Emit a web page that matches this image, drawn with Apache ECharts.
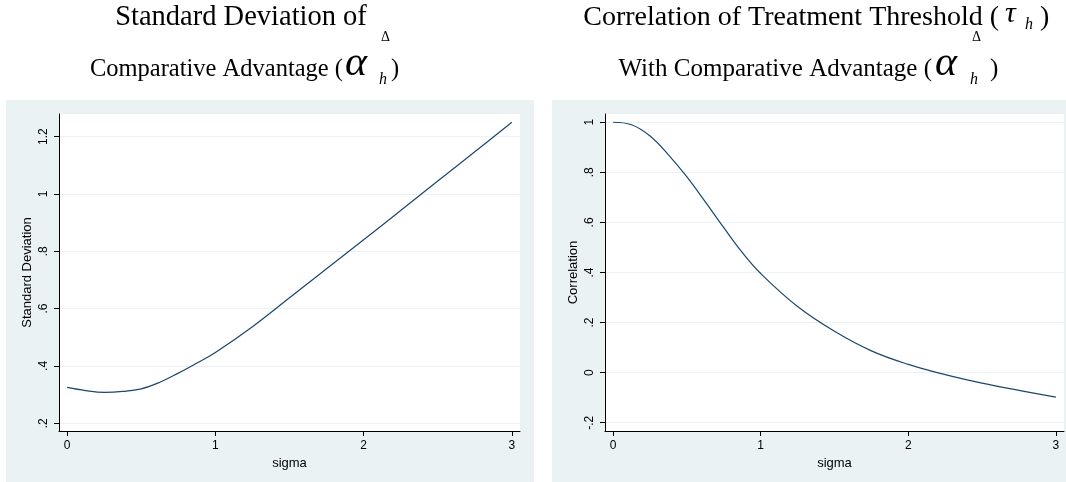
<!DOCTYPE html>
<html><head><meta charset="utf-8">
<script src="https://cdn.jsdelivr.net/npm/echarts@6/dist/echarts.min.js"></script>
<style>html,body{margin:0;padding:0;background:#fff}#c{width:1066px;height:482px}</style>
</head><body><div id="c"></div>
<script>
// ---- data ----
const sigma = [0,0.125,0.25,0.375,0.5,0.625,0.75,0.875,1,1.25,1.5,1.75,2,2.25,2.5,2.75,3];
const stdDev = [0.325,0.314,0.308,0.311,0.320,0.343,0.375,0.410,0.447,0.537,0.638,0.739,0.840,0.942,1.045,1.147,1.250];
const corr = [1.000,0.990,0.945,0.870,0.782,0.682,0.579,0.480,0.396,0.264,0.165,0.087,0.033,-0.008,-0.042,-0.071,-0.098];
const xTicks = [0,1,2,3];
const sdTicks = [0.2,0.4,0.6,0.8,1,1.2];
const corrTicks = [-0.2,0,0.2,0.4,0.6,0.8,1];

const PANEL = '#eaf2f3', LINE = '#1a476f', AX = '#000';
const SANS = 'Liberation Sans', SERIF = 'Liberation Serif';
function fmt(v){
  let s = String(+(+v).toFixed(2));
  return s.replace(/^0\./,'.').replace(/^-0\./,'-.');
}
function xAx(gi){
  return {type:'value', gridIndex:gi, min:-0.055, max:3.055,
    name:'sigma', nameLocation:'middle', nameGap:20,
    nameTextStyle:{fontFamily:SANS,fontSize:13,color:AX},
    axisLine:{show:true,onZero:false,lineStyle:{color:AX,width:1}},
    axisTick:{show:true,customValues:xTicks,length:5,lineStyle:{color:AX}},
    axisLabel:{customValues:xTicks,fontFamily:SANS,fontSize:12,color:AX,margin:9,formatter:fmt},
    splitLine:{show:false}};
}
function yAx(gi,min,max,ticks,name){
  return {type:'value', gridIndex:gi, min:min, max:max,
    name:name, nameLocation:'middle', nameGap:25, nameRotate:90,
    nameTextStyle:{fontFamily:SANS,fontSize:13,color:AX},
    axisLine:{show:true,onZero:false,lineStyle:{color:AX,width:1}},
    axisTick:{show:true,customValues:ticks,length:5,lineStyle:{color:AX}},
    axisLabel:{customValues:ticks,rotate:90,fontFamily:SANS,fontSize:12,color:AX,margin:9,formatter:fmt},
    splitLine:{show:true,lineStyle:{color:PANEL,width:1}}};
}
// text piece helper: baseline-positioned
function txt(x,base,s,size,align,italic){
  const off = 0.3375*size;
  return {type:'text', z:10, x:x, y:base-off,
    style:{text:s, fontFamily:SERIF, fontSize:size, fontStyle:italic?'italic':'normal',
      fill:'#000', align:align, verticalAlign:'middle'}};
}
const graphics = [
  {type:'rect', z:-5, shape:{x:6,y:100,width:528,height:382}, style:{fill:PANEL}},
  {type:'rect', z:-5, shape:{x:552,y:100,width:514,height:382}, style:{fill:PANEL}},
  txt(241,27,'Standard Deviation of',28.5,'center'),
  txt(343,78,'Comparative Advantage (',24.5,'right'),
  txt(345,78,'\u03b1',42,'left',true),
  txt(379,85,'h',16,'left',true),
  txt(381,42,'\u0394',14,'left'),
  txt(391,78,')',24.5,'left'),
  txt(999,27,'Correlation of Treatment Threshold (',28,'right'),
  txt(1005,24,'\u03c4',30,'left',true),
  txt(1025,30,'h',16,'left',true),
  txt(1040,27,')',28,'left'),
  txt(932,78,'With Comparative Advantage (',25,'right'),
  txt(935,78,'\u03b1',42,'left',true),
  txt(970,85,'h',16,'left',true),
  txt(972,42,'\u0394',14,'left'),
  txt(990,78,')',25,'left')
];
const chart = echarts.init(document.getElementById('c'));
chart.setOption({
  animation:false,
  backgroundColor:'#fff',
  graphic: graphics,
  grid:[
    {left:59, top:114, width:461, height:317, show:true, backgroundColor:'#fff', borderWidth:0},
    {left:605, top:114, width:459, height:317, show:true, backgroundColor:'#fff', borderWidth:0}
  ],
  xAxis:[xAx(0), xAx(1)],
  yAxis:[yAx(0,0.173,1.279,sdTicks,'Standard Deviation'), yAx(1,-0.233,1.033,corrTicks,'Correlation')],
  series:[
    {type:'line', xAxisIndex:0, yAxisIndex:0, showSymbol:false, smooth:0.4,
     lineStyle:{color:LINE,width:1.2}, data: sigma.map((s,i)=>[s,stdDev[i]])},
    {type:'line', xAxisIndex:1, yAxisIndex:1, showSymbol:false, smooth:0.4,
     lineStyle:{color:LINE,width:1.2}, data: sigma.map((s,i)=>[s,corr[i]])}
  ]
});
</script></body></html>
